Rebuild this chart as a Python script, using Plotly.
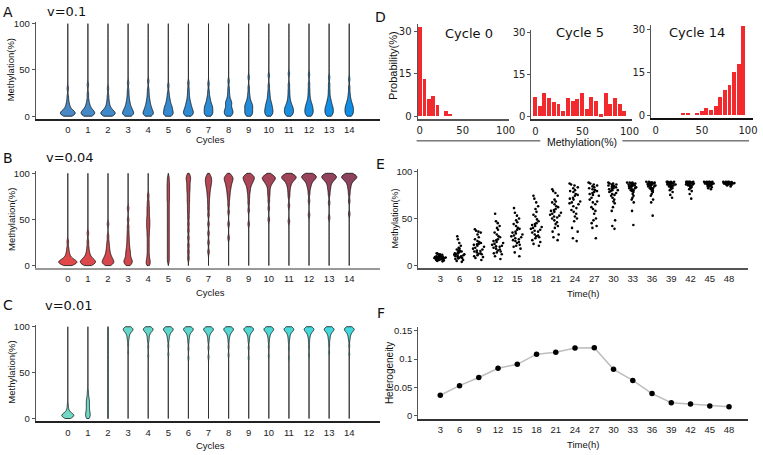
import numpy as np
import plotly.graph_objects as go

W, H = 763, 455

# ---------------- data ----------------
cycles = list(range(15))

violin_A = [
    [0.5,1,1.5,2,2.5,3,3,3.5,4,4.5,5,5.5,6.5,7.5,9,11,13,16,21,30],
    [0.5,1,1.5,2,2.5,3,3.5,4,4.5,5,5.5,6.5,7.5,8.5,10,12,14,18,24,34],
    [0.5,1,1.5,2,2.5,3,3,3.5,4,4.5,5,6,7,8,9.5,11,14,17,22,30],
    [0.5,1.5,2,2.5,3,3.5,4,5,6,7,8,9,10,12,14,16,19,23,28,36],
    [0.5,1.5,2,2.5,3,3.5,4.5,5.5,6.5,7.5,8.5,10,11,13,15,17,20,24,29,38],
    [0.5,1.5,2,2.5,3,4,5,6,7,8,9,10,11,12,14,16,18,21,25,33],
    [0.5,1.5,2,3,3.5,4,5,6,7,8,9,10,12,13,15,17,20,24,29,36],
    [0.5,1.5,2,3,4,5,6,7,8,9,10,11,12,13,15,17,19,22,27,35],
    [0.5,1.5,2.5,3,4,5,6,7,8,9,11,13,14,15,16,18,21,25,30,38],
    [0.5,1.5,2.5,3.5,4.5,5.5,6.5,8,9,10,11,12,13,14,16,18,21,25,31,42],
    [0.5,1.5,2.5,3.5,4.5,5.5,6.5,7.5,8.5,10,11,12,14,15,17,20,23,27,33,44],
    [0.5,1.5,2.5,3.5,4.5,5,6,7,8,9,10,11,12,14,16,19,23,28,34,46],
    [0.5,1.5,2.5,3.5,4.5,5.5,6.5,7.5,8.5,9.5,11,12,13,15,17,20,24,29,35,45],
    [0.5,1.5,2.5,3.5,4.5,5.5,6.5,7.5,8.5,9.5,10.5,12,13,15,17,19,23,28,34,42],
    [0.5,1.5,2.5,3.5,4.5,5.5,6.5,7.5,8.5,9.5,10.5,11.5,13,14,16,18,21,25,31,40],
]

violin_B = [
    [1,1.5,2,2.5,3,3,3.5,4,4,4.5,5,5.5,6,7,8,10,12,15,19,26],
    [1,1.5,2,2.5,3,3.5,4,4.5,5,5.5,6,7,8,9,11,13,16,20,26,35],
    [1,2,2.5,3,3.5,4,5,6,7,8,9,10,12,14,16,19,22,26,32,45],
    [1,2,3,4,5,6,7,9,11,13,15,17,20,23,27,31,36,42,50,62],
    [1,3,5,8,12,17,22,27,32,36,40,43,46,49,52,56,60,64,69,76],
    [5,10,15,20,25,30,35,40,45,50,55,60,65,70,74,78,82,86,90,95],
    [8,15,22,30,38,45,52,58,63,68,72,76,80,83,86,89,92,94,96,98],
    [15,25,35,45,55,62,68,73,77,80,83,85,87,89,90,92,93,95,96,98],
    [30,45,58,66,72,76,79,82,84,86,88,89,91,92,93,94,95,96,97,98],
    [45,60,68,74,79,82,85,87,89,90,91,92,93,94,95,95.5,96,97,97.5,98],
    [50,62,70,76,80,84,87,89,90,91,92,93,94,94.5,95,95.5,96,96.5,97,98],
    [48,65,75,80,84,87,89,90.5,92,93,94,94.5,95,95.5,96,96.5,97,97.5,98,98.5],
    [55,70,78,83,86,88,90,91.5,92.5,93.5,94.5,95,95.5,96,96.5,97,97.5,98,98.5,99],
    [52,68,77,82,85,88,90,91.5,92.5,93.5,94.5,95,95.5,96,96.5,97,97.5,98,98.5,99],
    [56,70,78,83,86,88.5,90.5,92,93,94,94.5,95,95.5,96,96.5,97,97.5,98,98.5,99],
]

violin_C = [
    [0.5,1,1.5,2,2.5,2.5,3,3,3.5,3.5,4,4,4.5,5,5.5,6,7,8.5,11,15],
    [0.5,1.5,2.5,3.5,4.5,5.5,6.5,7.5,9,10.5,12,13.5,15,16.5,18,19.5,21,23,26,30],
    [2,7,12,17,22,27,32,37,42,47,52,57,62,67,72,77,82,87,92,97],
    [72,80,85,88,90,92,93,94,95,95.5,96,96.5,97,97,97.5,98,98,98.5,99,99.5],
    [68,78,84,87,89.5,91.5,93,94,95,95.5,96,96.5,97,97,97.5,98,98,98.5,99,99.5],
    [70,79,85,88,90,92,93,94,95,95.5,96,96.5,97,97,97.5,98,98,98.5,99,99.5],
    [66,76,83,87,89.5,91.5,93,94,95,95.5,96,96.5,97,97,97.5,98,98,98.5,99,99.5],
    [67,77,84,87.5,90,92,93,94,95,95.5,96,96.5,97,97,97.5,98,98,98.5,99,99.5],
    [69,78,84,88,90,92,93,94,95,95.5,96,96.5,97,97,97.5,98,98,98.5,99,99.5],
    [66,77,84,87.5,90,92,93,94,95,95.5,96,96.5,97,97,97.5,98,98,98.5,99,99.5],
    [68,78,84,88,90,92,93,94,95,95.5,96,96.5,97,97,97.5,98,98,98.5,99,99.5],
    [66,76,83,87,89.5,91.5,93,94,95,95.5,96,96.5,97,97,97.5,98,98,98.5,99,99.5],
    [69,78,84,88,90,92,93,94,95,95.5,96,96.5,97,97,97.5,98,98,98.5,99,99.5],
    [72,80,85,88,90,92,93,94,95,95.5,96,96.5,97,97,97.5,98,98,98.5,99,99.5],
    [70,79,85,88,90,92,93,94,95,95.5,96,96.5,97,97,97.5,98,98,98.5,99,99.5],
]

hist_bins = [0,5,10,15,20,25,30,35,40,45,50,55,60,65,70,75,80,85,90,95]
hist_cycle0 = [31.6,13.2,5.9,7.0,3.7,0,1.8,0.7,0,0,0,0,0,0,0,0,0,0,0,0]
hist_cycle5 = [7.1,3.8,8.3,6.6,5.0,4.3,2.0,6.6,5.4,6.1,8.3,2.6,7.1,5.4,0.7,8.3,4.3,6.6,4.3,2.0]
hist_cycle14 = [0,0,0,0,0,0,0.7,0.7,0,0.7,1.4,2.5,1.9,3.1,6.3,8.8,10.4,15.0,17.9,31.0]

times = [3,6,9,12,15,18,21,24,27,30,33,36,39,42,45,48]
methylation_E = [
    [4.5,5,5.5,6,6,6.5,6.5,7,7,7,7.5,7.5,8,8,8,8.5,8.5,9,9,9,9.5,9.5,10,10,10.5,11,11.5,12,12.5,13],
    [4,5,6,7,7.5,8,8.5,9,9,10,10,10.5,11,11.5,12,12,13,13,14,14.5,15,15.5,16,17,18,19,21,24,28,31],
    [6,8,9,10,11,12,12.5,13,14,15,15.5,16,17,18,19,20,21,22,22.5,23,24,25,26,28,30,33,35,36,37,38.5],
    [7,10,12,13,14,15,16,17,18,19,20,20.5,21,22,23,24,25,26,27,28,30,31,33,35,38,40,42,45,47,55],
    [10,14,18,20,21,22,24,25,26,27,28,29,30,31,32,33,34,35,36,38,39,40,42,44,46,48,50,53,56,61],
    [21,23,25,27,29,30,31,32,33,35,36,37,38,39,40,41,42,43,44,45,47,49,52,54,57,60,63,67,71,74],
    [27,30,33,36,40,42,44,46,48,50,51,52,53,54,55,56,57,58,59,60,62,63,65,67,68,70,74,77,79,81],
    [26,29,36,40,47,50,52,55,57,59,61,63,65,66,67,68,70,71,72,74,75,76,78,79,80,82,83,85,86,87],
    [29,40,42,45,48,50,55,58,60,62,65,67,68,70,72,74,75,76,77,78,79,80,81,82,83,84,85,86,87,88],
    [39,42,48,58,62,66,68,70,72,74,75,76,77,78,79,80,80,81,82,82,83,84,84,85,85,86,86,87,87,88],
    [43,58,67,70,72,74,76,78,79,80,80,81,82,82,83,83,84,84,85,85,85,86,86,86,87,87,87,88,88,88],
    [53,67,70,74,76,78,79,80,81,82,82,83,84,84,85,85,85,86,86,86,87,87,87,87,88,88,88,88,89,89],
    [72,75,78,80,81,82,83,83,84,84,85,85,85,86,86,86,86,87,87,87,87,88,88,88,88,88,89,89,89,89],
    [71,76,79,81,82,83,84,84,85,85,85,86,86,86,86,87,87,87,87,87,88,88,88,88,88,89,89,89,89,89],
    [81,82,83,84,84,85,85,85,86,86,86,86,86.5,87,87,87,87,87.5,87.5,88,88,88,88,88,88.5,88.5,89,89,89,89],
    [84,85,85.5,86,86,86,86.5,86.5,86.5,87,87,87,87,87,87.5,87.5,87.5,87.5,88,88,88,88,88,88,88.5,88.5,88.5,89,89,89],
]
heterogeneity = [0.0363,0.0531,0.0675,0.0837,0.0906,0.1085,0.112,0.1194,0.120,
                 0.0819,0.0623,0.0392,0.0231,0.0208,0.0173,0.0162]

# ---------------- helpers ----------------
def xd(a, b):
    return [a / W, b / W]

def yd(top, bottom):
    return [1 - bottom / H, 1 - top / H]

def lerp_color(c0, c1, t):
    return "rgb(%d,%d,%d)" % tuple(round(c0[i] + (c1[i] - c0[i]) * t) for i in range(3))

def kde_peak(vals, bw):
    # peak of the same Gaussian KDE that the violin draws, over its 0-100 span;
    # used only to size each violin relative to the widest one of its panel
    grid = np.linspace(0, 100, 801)
    v = np.asarray(vals, float)[:, None]
    dens = np.exp(-0.5 * ((grid[None, :] - v) / bw) ** 2).sum(0) / (len(vals) * bw * np.sqrt(2 * np.pi))
    return dens.max()

TICKFONT = dict(family="Liberation Sans, Arial", size=9.5, color="#222")
DFONT = dict(family="DejaVu Sans", size=10, color="#222")

fig = go.Figure()

# (data, colour at cycle 0, colour at cycle 14, max full width in cycle units, bandwidth, axes)
panels = [
    (violin_A, (72, 136, 196), (14, 142, 230), 0.74, 2.5, "x", "y"),
    (violin_B, (226, 72, 74), (140, 66, 92), 0.9, 2.5, "x2", "y2"),
    (violin_C, (112, 216, 196), (62, 216, 222), 0.6, 2.0, "x3", "y3"),
]
for data, c0, c1, maxw, bw, xa, ya in panels:
    peaks = [kde_peak(v, bw) for v in data]
    pmax = max(peaks)
    for i, vals in enumerate(data):
        col = lerp_color(c0, c1, i / 14)
        fig.add_trace(go.Violin(
            x0=cycles[i], y=vals, xaxis=xa, yaxis=ya,
            fillcolor=col, line=dict(color="#111", width=0.8), opacity=1,
            spanmode="manual", span=[0, 100], bandwidth=bw,
            width=max(maxw * peaks[i] / pmax, 0.02),
            points=False, box_visible=False, meanline_visible=False,
            showlegend=False, hoverinfo="skip"))

for vals, xa, ya in [(hist_cycle0, "x4", "y4"), (hist_cycle5, "x5", "y5"), (hist_cycle14, "x6", "y6")]:
    fig.add_trace(go.Bar(x=hist_bins, y=vals, width=4.2, xaxis=xa, yaxis=ya,
                         marker=dict(color="#f22a2e", line=dict(width=0)),
                         showlegend=False, hoverinfo="skip"))

for t, vals in zip(times, methylation_E):
    fig.add_trace(go.Box(
        x0=t, y=vals, xaxis="x7", yaxis="y7", width=2.0,
        boxpoints="all", jitter=0.95, pointpos=0,
        fillcolor="rgba(0,0,0,0)", line=dict(color="rgba(0,0,0,0)", width=0),
        marker=dict(color="black", size=2.6), showlegend=False))

fig.add_trace(go.Scatter(x=times, y=heterogeneity, xaxis="x8", yaxis="y8",
                         mode="lines+markers", line=dict(color="#bdbdbd", width=1.5),
                         marker=dict(color="black", size=5.5), showlegend=False))

# ---------------- axes ----------------
def xax(dom, rng, anchor, tickvals, linecolor, font=TICKFONT, standoff=1, ticktext=None):
    d = dict(domain=dom, range=rng, anchor=anchor, type="linear", tickvals=tickvals,
             showline=True, linecolor=linecolor, linewidth=1.5, ticks="",
             showgrid=False, zeroline=False, tickfont=font, ticklabelstandoff=standoff)
    if ticktext:
        d["ticktext"] = ticktext
    return d

def yax(dom, rng, anchor, tickvals, font=TICKFONT, ticktext=None, linecolor="#555"):
    d = dict(domain=dom, range=rng, anchor=anchor, type="linear", tickvals=tickvals,
             showline=True, linecolor=linecolor, linewidth=1, ticks="outside", ticklen=3,
             tickcolor=linecolor, showgrid=False, zeroline=False, tickfont=font)
    if ticktext:
        d["ticktext"] = ticktext
    return d

layout = dict(
    width=W, height=H, margin=dict(l=0, r=0, t=0, b=0),
    paper_bgcolor="white", plot_bgcolor="white", showlegend=False,
    xaxis=xax(xd(35, 383), [-1.6, 15.53], "y", cycles, "#222"),
    yaxis=yax(yd(18, 117), [-3.2, 102.1], "x", [0, 50, 100]),
    xaxis2=xax(xd(35, 383), [-1.6, 15.53], "y2", cycles, "#999"),
    yaxis2=yax(yd(170, 268.3), [-2.8, 102.1], "x2", [0, 50, 100]),
    xaxis3=xax(xd(35, 383), [-1.6, 15.53], "y3", cycles, "#222"),
    yaxis3=yax(yd(325.8, 424), [-3.2, 102.1], "x3", [0, 50, 100]),
    xaxis4=xax(xd(421, 513), [-2.5, 103.5], "y4", [0, 50, 100], "#555", DFONT, 2),
    yaxis4=yax(yd(20.7, 116.5), [-0.9, 32.5], "x4", [0, 15, 30], DFONT),
    xaxis5=xax(xd(536, 638), [-4.2, 103], "y5", [0, 50, 100], "#333", DFONT, 2),
    yaxis5=yax(yd(26.5, 116.7), [-0.9, 31], "x5", [0, 15, 30], DFONT),
    xaxis6=xax(xd(657, 760), [-5, 105.4], "y6", [0, 50, 100], "#111", DFONT, 2),
    yaxis6=yax(yd(21.7, 116), [-0.9, 31.3], "x6", [0, 15, 30], DFONT),
    xaxis7=xax(xd(421.7, 755), [-0.43, 50.97], "y7", times, "#555"),
    yaxis7=yax(yd(168, 267.7), [-2.1, 102], "x7", [0, 50, 100]),
    xaxis8=xax(xd(421.7, 755), [-0.43, 50.97], "y8", times, "#333"),
    yaxis8=yax(yd(328, 421.7), [-0.0059, 0.1564], "x8", [0, 0.05, 0.1, 0.15],
               ticktext=["0", "0.05", "0.1", "0.15"]),
    bargap=0,
)
fig.update_layout(**layout)

# ---------------- annotations ----------------
def ann(text, x, y, size, family="Liberation Sans, Arial", angle=0, xanchor="center"):
    return dict(text=text, x=x / W, y=1 - y / H, xref="paper", yref="paper",
                showarrow=False, textangle=angle, xanchor=xanchor, yanchor="middle",
                font=dict(size=size, family=family, color="#111"))

DJ = "DejaVu Sans"
anns = [
    ann("A", 7, 8, 14, DJ), ann("v=0.1", 44, 8, 13, DJ, xanchor="left"),
    ann("B", 7, 156, 14, DJ), ann("v=0.04", 43, 156, 13, DJ, xanchor="left"),
    ann("C", 7, 306, 14, DJ), ann("v=0.01", 42, 306, 13, DJ, xanchor="left"),
    ann("D", 384, 13, 14, DJ), ann("E", 384, 162, 14, DJ), ann("F", 384, 314, 14, DJ),
    ann("Methylation(%)", 10.5, 67, 9.5, angle=-90),
    ann("Methylation(%)", 10.5, 219, 9.5, angle=-90),
    ann("Methylation(%)", 10.5, 374, 9.5, angle=-90),
    ann("Cycles", 212, 138, 9.5), ann("Cycles", 212, 293, 9.5), ann("Cycles", 212, 448, 9.5),
    ann("Probability(%)", 396, 63, 11, angle=-90),
    ann("Cycle 0", 473, 30, 13, DJ), ann("Cycle 5", 585, 29, 13, DJ), ann("Cycle 14", 703, 29, 13, DJ),
    ann("Methylation(%)", 587, 140, 10.5),
    ann("Methylation(%)", 398, 218, 9, angle=-90),
    ann("Time(h)", 588, 294, 9.5),
    ann("Heterogeneity", 392, 375, 10, angle=-90),
    ann("Time(h)", 588, 447, 9.5),
]
fig.update_layout(annotations=anns)

shapes = [
    dict(type="line", xref="paper", yref="paper", x0=420 / W, x1=545 / W,
         y0=1 - 139 / H, y1=1 - 139 / H, line=dict(color="#333", width=1)),
    dict(type="line", xref="paper", yref="paper", x0=628 / W, x1=756 / W,
         y0=1 - 139 / H, y1=1 - 139 / H, line=dict(color="#333", width=1)),
]
fig.update_layout(shapes=shapes)

fig.write_html("out.html", config={"displayModeBar": False},
               post_script="document.body.style.margin='0';document.body.style.padding='0';"
                           "document.documentElement.style.overflow='hidden';")
